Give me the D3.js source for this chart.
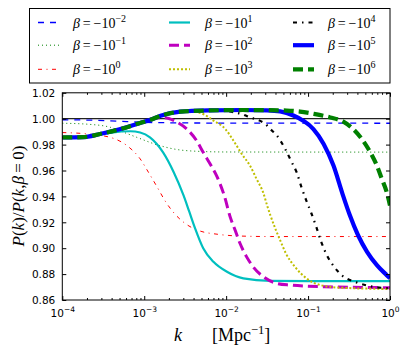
<!DOCTYPE html>
<html>
<head>
<meta charset="utf-8">
<script src="https://cdn.jsdelivr.net/npm/d3@7"></script>
<style>
  body { margin: 0; background: #fff; }
  text { fill: #000; }
</style>
</head>
<body>
<svg id="chart" width="411" height="357"></svg>
<script>
// beta = -10^n, one series per exponent; points are [log10 k, P/P0]
const betaExp = [-2, -1, 0, 1, 2, 3, 4, 5, 6];
const xTickExp = [-4, -3, -2, -1, 0];
const yTicks = [0.86, 0.88, 0.90, 0.92, 0.94, 0.96, 0.98, 1.00, 1.02];

const b_m2 = [[-4, 0.9992], [-3.6, 0.9988], [-3.3, 0.998], [-3.0, 0.9972], [-2.6, 0.9968], [-2, 0.9966], [0, 0.9965]];
const b_m1 = [[-4, 0.9965], [-3.66, 0.9956], [-3.41, 0.9933], [-3.25, 0.9895], [-3.09, 0.9856], [-2.85, 0.980],
              [-2.6, 0.9762], [-2.3, 0.9747], [-2, 0.9743], [0, 0.9742]];
const b_0 = [[-4, 0.9893], [-3.66, 0.988], [-3.38, 0.9849], [-3.2, 0.9787], [-3.05, 0.969], [-2.95, 0.9588],
             [-2.84, 0.947], [-2.74, 0.936], [-2.63, 0.9267], [-2.48, 0.9182], [-2.32, 0.9133], [-2.11, 0.9108],
             [-1.87, 0.9095], [-1.46, 0.909], [0, 0.909]];
const b_1 = [[-4, 0.9855], [-3.75, 0.9857], [-3.55, 0.9878], [-3.4, 0.9893], [-3.17, 0.9903], [-3.05, 0.9893],
             [-2.93, 0.9856], [-2.77, 0.974], [-2.64, 0.9587], [-2.52, 0.9408], [-2.45, 0.9282], [-2.38, 0.9155],
             [-2.28, 0.900], [-2.155, 0.8895], [-1.99, 0.8818], [-1.79, 0.8767], [-1.46, 0.8748], [-1, 0.8746], [0, 0.8746]];
const b_2 = [[-4, 0.9855], [-3.75, 0.9857], [-3.54, 0.9882], [-3.29, 0.992], [-3.05, 0.9967], [-2.88, 1.0003],
             [-2.75, 1.0008], [-2.62, 0.998], [-2.48, 0.992], [-2.36, 0.983], [-2.28, 0.974], [-2.195, 0.965],
             [-2.11, 0.955], [-2.02, 0.940], [-1.95, 0.924], [-1.89, 0.9138], [-1.83, 0.9036], [-1.75, 0.8933],
             [-1.67, 0.8856], [-1.545, 0.8779], [-1.38, 0.8728], [-1.22, 0.8715], [-0.8, 0.8702], [0, 0.8695]];
const b_3 = [[-4, 0.9855], [-3.75, 0.9857], [-3.54, 0.9882], [-3.29, 0.992], [-3.05, 0.9967], [-2.93, 0.999],
             [-2.8, 1.0023], [-2.6, 1.0052], [-2.42, 1.0055], [-2.28, 1.0036], [-2.155, 0.9985], [-2.01, 0.992],
             [-1.91, 0.983], [-1.81, 0.9728], [-1.71, 0.9638], [-1.63, 0.9536], [-1.545, 0.9425], [-1.5, 0.933],
             [-1.46, 0.9254], [-1.4, 0.9151], [-1.34, 0.906], [-1.27, 0.8959], [-1.16, 0.8856], [-1.02, 0.8767],
             [-0.85, 0.8715], [-0.61, 0.8695], [0, 0.8685]];
const b_4 = [[-4, 0.9855], [-3.75, 0.9857], [-3.54, 0.9882], [-3.29, 0.992], [-3.05, 0.9967], [-2.93, 0.999],
             [-2.8, 1.0023], [-2.56, 1.0054], [-2.25, 1.0064], [-2.01, 1.0062], [-1.91, 1.005], [-1.81, 1.0036],
             [-1.71, 1.001], [-1.62, 0.9992], [-1.52, 0.9959], [-1.46, 0.992], [-1.38, 0.9869], [-1.28, 0.9767],
             [-1.2, 0.9665], [-1.14, 0.9587], [-1.08, 0.947], [-1.02, 0.9365], [-0.96, 0.927], [-0.9, 0.9165],
             [-0.84, 0.905], [-0.77, 0.8945], [-0.68, 0.8855], [-0.59, 0.8792], [-0.41, 0.8736], [-0.2, 0.8702], [0, 0.869]];
const b_5 = [[-4, 0.9855], [-3.75, 0.9857], [-3.54, 0.9882], [-3.29, 0.992], [-3.05, 0.9967], [-2.93, 0.999],
             [-2.8, 1.0023], [-2.56, 1.0054], [-2.2, 1.0064], [-1.8, 1.0067], [-1.5, 1.0064], [-1.34, 1.0056],
             [-1.18, 1.0025], [-1.06, 0.9985], [-0.935, 0.992], [-0.81, 0.9805], [-0.69, 0.9638], [-0.58, 0.942],
             [-0.49, 0.9254], [-0.39, 0.91], [-0.28, 0.8972], [-0.16, 0.8869], [-0.04, 0.8792], [0, 0.8767]];
const b_6 = [[-4, 0.9855], [-3.75, 0.9857], [-3.54, 0.9882], [-3.29, 0.992], [-3.05, 0.9967], [-2.93, 0.999],
             [-2.8, 1.0023], [-2.56, 1.0054], [-2.2, 1.0064], [-1.8, 1.0067], [-1.5, 1.0066], [-1.26, 1.0063],
             [-1.1, 1.0055], [-0.935, 1.0038], [-0.73, 1.001], [-0.57, 0.9977], [-0.45, 0.992], [-0.345, 0.9844],
             [-0.24, 0.974], [-0.16, 0.9638], [-0.1, 0.9536], [-0.04, 0.9433], [0, 0.933]];

const seriesData = [b_m2, b_m1, b_0, b_1, b_2, b_3, b_4, b_5, b_6];

// matplotlib classic colour letters: b g r c m y k b g
const colors = ['#0000ff', '#008000', '#ff0000', '#00bfbf', '#bf00bf', '#bfbf00', '#000000', '#0000ff', '#008000'];
const widths = [1.3, 1, 1, 2.2, 3, 2, 2.2, 4.2, 4.2];
const dashes = ['6,6', '1,3', '4,4.5,1,4.5', null, '10,5', '2,2', '4,5,1.5,5', null, '10,5'];

const svg = d3.select('#chart');
const pLeft = 62.3, pRight = 390, pTop = 92.8, pBottom = 300;

const x = d3.scaleLog().domain([1e-4, 1]).range([pLeft, pRight]);
const y = d3.scaleLinear().domain([0.86, 1.02]).range([pBottom, pTop]);

const tickFont = 'DejaVu Sans, sans-serif';
const mathFont = 'Liberation Serif, DejaVu Serif, serif';

svg.append('defs').append('clipPath').attr('id', 'plotclip')
  .append('rect')
    .attr('x', pLeft).attr('y', pTop)
    .attr('width', pRight - pLeft).attr('height', pBottom - pTop);

// reference line at 1
svg.append('line')
  .attr('x1', pLeft).attr('x2', pRight)
  .attr('y1', y(1)).attr('y2', y(1))
  .attr('stroke', '#222')
  .attr('stroke-width', 1.2);

const line = d3.line()
  .x(d => x(Math.pow(10, d[0])))
  .y(d => y(d[1]))
  .curve(d3.curveMonotoneX);

svg.append('g')
    .attr('clip-path', 'url(#plotclip)')
  .selectAll('path')
  .data(seriesData)
  .join('path')
    .attr('d', line)
    .attr('fill', 'none')
    .attr('stroke', (d, i) => colors[i])
    .attr('stroke-width', (d, i) => widths[i])
    .attr('stroke-dasharray', (d, i) => dashes[i]);

// axes: major + minor ticks, all pointing inwards
const majorX = xTickExp.map(e => Math.pow(10, e));
const minorX = [];
xTickExp.slice(0, -1).forEach(e => {
  for (let m = 2; m <= 9; m++) minorX.push(m * Math.pow(10, e));
});

function styleAxis(g) {
  g.select('.domain').remove();
  g.selectAll('.tick line').attr('stroke', '#000').attr('stroke-width', 1);
}

const bottomAxis = svg.append('g')
    .attr('transform', `translate(0,${pBottom})`)
    .call(d3.axisBottom(x).tickValues(majorX).tickSize(-4).tickFormat(''))
    .call(styleAxis);
svg.append('g')
    .attr('transform', `translate(0,${pBottom})`)
    .call(d3.axisBottom(x).tickValues(minorX).tickSize(-2).tickFormat(''))
    .call(styleAxis);
svg.append('g')
    .attr('transform', `translate(0,${pTop})`)
    .call(d3.axisTop(x).tickValues(majorX).tickSize(-4).tickFormat(''))
    .call(styleAxis);
svg.append('g')
    .attr('transform', `translate(0,${pTop})`)
    .call(d3.axisTop(x).tickValues(minorX).tickSize(-2).tickFormat(''))
    .call(styleAxis);

svg.append('g')
    .attr('transform', `translate(${pLeft},0)`)
    .call(d3.axisLeft(y).tickValues(yTicks).tickSize(-4).tickPadding(7).tickFormat(d3.format('.2f')))
    .call(styleAxis)
    .selectAll('text')
      .attr('font-family', tickFont)
      .attr('font-size', 10.5)
      .attr('dy', '0.36em');
svg.append('g')
    .attr('transform', `translate(${pRight},0)`)
    .call(d3.axisRight(y).tickValues(yTicks).tickSize(-4).tickFormat(''))
    .call(styleAxis);

// x tick labels 10^n
bottomAxis.selectAll('.tick').each(function(d) {
  const t = d3.select(this).select('text')
    .text(null)
    .attr('y', 17)
    .attr('dy', null)
    .attr('font-family', tickFont)
    .attr('font-size', 10.5)
    .attr('text-anchor', 'middle');
  t.append('tspan').text('10');
  t.append('tspan')
    .attr('dy', -5)
    .attr('font-size', 7.5)
    .text(String(Math.round(Math.log10(d))).replace('-', '\u2212'));
});

svg.append('rect')
  .attr('x', pLeft).attr('y', pTop)
  .attr('width', pRight - pLeft).attr('height', pBottom - pTop)
  .attr('fill', 'none')
  .attr('stroke', '#000')
  .attr('stroke-width', 1);

// axis labels
const xl = svg.append('text')
  .attr('y', 341)
  .attr('font-family', mathFont)
  .attr('font-size', 18);
xl.append('tspan').attr('x', 174).attr('font-style', 'italic').text('k');
xl.append('tspan').attr('x', 212).text('[Mpc');
xl.append('tspan').attr('dy', -7).attr('font-size', 12.5).text('\u22121');
xl.append('tspan').attr('dy', 7).text(']');

const yl = svg.append('text')
  .attr('transform', 'translate(24,196) rotate(-90)')
  .attr('text-anchor', 'middle')
  .attr('font-family', mathFont)
  .attr('font-size', 17);
[['P', 1], ['(', 0], ['k', 1], [')', 0], ['/', 0], ['P', 1], ['(', 0], ['k', 1], [',', 0],
 ['\u03b2', 1], ['\u2009=\u20090)', 0]].forEach(([s, it]) => {
  yl.append('tspan').attr('font-style', it ? 'italic' : null).text(s);
});

// legend
const legX0 = [38, 169, 293], legT0 = [73, 205, 328], legY = [22.5, 45.2, 69.3];
const legend = svg.append('g');
legend.append('rect')
  .attr('x', 29.5).attr('y', 8.5).attr('width', 360.5).attr('height', 74.5)
  .attr('fill', '#fff').attr('stroke', '#000').attr('stroke-width', 1);

betaExp.forEach((e, i) => {
  const col = Math.floor(i / 3), row = i % 3;
  const ly = legY[row];
  legend.append('line')
    .attr('x1', legX0[col]).attr('x2', legX0[col] + 21)
    .attr('y1', ly).attr('y2', ly)
    .attr('stroke', colors[i])
    .attr('stroke-width', widths[i])
    .attr('stroke-dasharray', dashes[i]);
  const t = legend.append('text')
    .attr('x', legT0[col]).attr('y', ly + 5)
    .attr('font-family', mathFont)
    .attr('font-size', 14);
  t.append('tspan').attr('font-style', 'italic').text('\u03b2');
  t.append('tspan').text('\u2009=\u2009\u221210');
  t.append('tspan')
    .attr('dy', -6)
    .attr('font-size', 10)
    .text(String(e).replace('-', '\u2212'));
});
</script>
</body>
</html>
